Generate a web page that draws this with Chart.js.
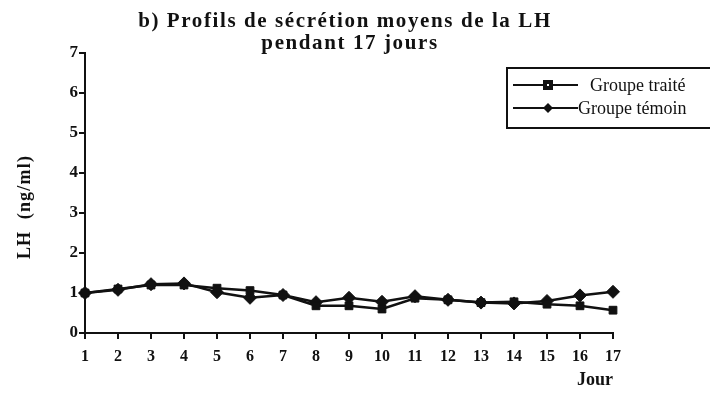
<!DOCTYPE html>
<html>
<head>
<meta charset="utf-8">
<script src="https://cdn.jsdelivr.net/npm/chart.js@4/dist/chart.umd.min.js"></script>
<style>
  html, body { margin: 0; padding: 0; background: #fff; }
  #wrap { width: 710px; height: 394px; }
</style>
</head>
<body>
<div id="wrap"><canvas id="cnv" width="710" height="394"></canvas></div>
<script>
// jours 1..17, LH moyenne (ng/ml)
const jours = ['1','2','3','4','5','6','7','8','9','10','11','12','13','14','15','16','17'];
const groupeTraite = [1.0, 1.1, 1.2, 1.2, 1.12, 1.06, 0.95, 0.68, 0.68, 0.6, 0.87, 0.83, 0.76, 0.78, 0.72, 0.68, 0.57];
const groupeTemoin = [1.0, 1.08, 1.22, 1.24, 1.02, 0.88, 0.95, 0.77, 0.88, 0.78, 0.92, 0.83, 0.76, 0.74, 0.8, 0.94, 1.03];
const titre = ['b) Profils de sécrétion moyens de la LH', 'pendant 17 jours'];

const serif = '"Liberation Serif", "DejaVu Serif", serif';

// titre, label de l'axe Y et legende encadree
const decor = {
  id: 'decor',
  afterDraw(chart) {
    const c = chart.ctx;
    c.save();
    c.fillStyle = '#111';
    c.textAlign = 'center';
    c.textBaseline = 'alphabetic';
    c.font = 'bold 21px ' + serif;
    c.letterSpacing = '1.6px';
    c.fillText(titre[0], 345, 27);
    c.fillText(titre[1], 350, 49);

    // LH (ng/ml)
    c.save();
    c.translate(25, 207);
    c.rotate(-Math.PI / 2);
    c.font = 'bold 18px ' + serif;
    c.letterSpacing = '1.2px';
    c.textBaseline = 'middle';
    c.fillText('LH  (ng/ml)', 0, 0);
    c.restore();
    c.letterSpacing = '0px';

    // cadre de la legende (ouvert a droite)
    c.strokeStyle = '#111';
    c.lineWidth = 2;
    c.beginPath();
    c.moveTo(712, 68);
    c.lineTo(507, 68);
    c.lineTo(507, 128);
    c.lineTo(712, 128);
    c.stroke();

    const rows = [
      {ds: 0, y: 85, x2: 578, tx: 590},
      {ds: 1, y: 108, x2: 578, tx: 578}
    ];
    c.font = '18px ' + serif;
    c.textAlign = 'left';
    c.textBaseline = 'middle';
    rows.forEach(r => {
      const ds = chart.data.datasets[r.ds];
      c.lineWidth = 2;
      c.beginPath();
      c.moveTo(513, r.y);
      c.lineTo(r.x2, r.y);
      c.stroke();
      c.fillStyle = '#111';
      if (ds.pointStyle === 'rect') {
        c.fillRect(543, r.y - 5, 10, 10);
        c.fillStyle = '#fff';
        c.fillRect(547, r.y - 1, 2, 2);
      } else {
        c.beginPath();
        c.moveTo(548, r.y - 5);
        c.lineTo(553, r.y);
        c.lineTo(548, r.y + 5);
        c.lineTo(543, r.y);
        c.closePath();
        c.fill();
      }
      c.fillStyle = '#111';
      c.fillText(ds.label, r.tx, r.y + 1);
    });
    c.restore();
  }
};

const ctx = document.getElementById('cnv').getContext('2d');
const chart = new Chart(ctx, {
  type: 'line',
  data: {
    labels: jours,
    datasets: [
      {
        label: 'Groupe traité',
        data: groupeTraite,
        borderColor: '#111',
        backgroundColor: '#111',
        borderWidth: 2.5,
        pointStyle: 'rect',
        pointRadius: 5.5,
        pointBorderWidth: 1,
        tension: 0
      },
      {
        label: 'Groupe témoin',
        data: groupeTemoin,
        borderColor: '#111',
        backgroundColor: '#111',
        borderWidth: 2.5,
        pointStyle: 'rectRot',
        pointRadius: 6.5,
        pointBorderWidth: 1,
        tension: 0
      }
    ]
  },
  options: {
    responsive: false,
    animation: false,
    layout: { padding: { left: 0, right: 97, top: 53, bottom: 0 } },
    plugins: {
      legend: { display: false },
      title: { display: false },
      tooltip: { enabled: false }
    },
    scales: {
      x: {
        offset: false,
        border: { color: '#111', width: 2 },
        grid: { drawOnChartArea: false, drawTicks: true, tickLength: 6, color: '#111', lineWidth: 2 },
        ticks: { color: '#111', font: { family: serif, size: 16, weight: 'bold' }, padding: 8, maxRotation: 0, autoSkip: false },
        title: { display: true, text: 'Jour', align: 'end', color: '#111', font: { family: serif, size: 18, weight: 'bold' }, padding: { top: 0, bottom: 3 } },
        afterFit(s) { s.height = 61; }
      },
      y: {
        min: 0,
        max: 7,
        border: { color: '#111', width: 2 },
        grid: { drawOnChartArea: false, drawTicks: true, tickLength: 6, color: '#111', lineWidth: 2 },
        ticks: { stepSize: 1, color: '#111', font: { family: serif, size: 17, weight: 'bold' }, padding: 1 },
        afterFit(s) { s.width = 85; }
      }
    }
  },
  plugins: [decor]
});
</script>
</body>
</html>
